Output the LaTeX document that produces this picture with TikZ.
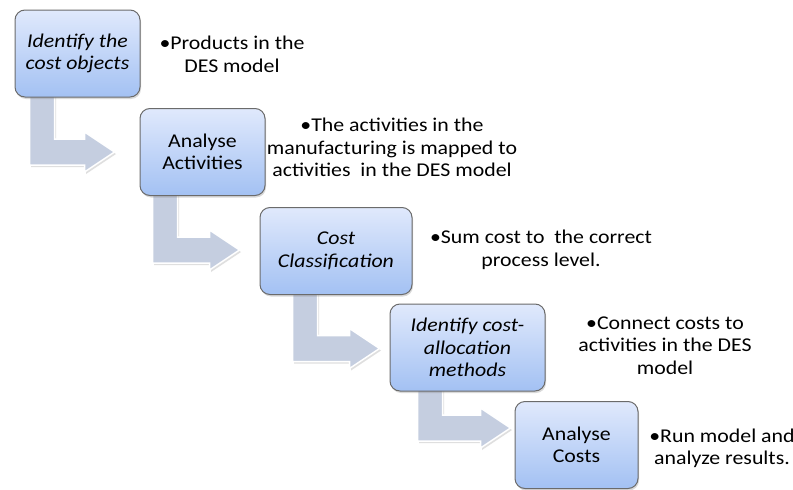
\documentclass[tikz,border=0pt]{standalone}
\usepackage{fontspec}
\setmainfont{Carlito}[FakeStretch=1.12]
\usetikzlibrary{calc,shadows,backgrounds}

\definecolor{boxtop}{HTML}{E0E9FC}
\definecolor{boxbot}{HTML}{A3C1F3}
\definecolor{boxline}{HTML}{6B6B6B}
\definecolor{flowfill}{HTML}{C5CEE0}

\tikzset{
  stepbox/.style={rectangle, rounded corners=10pt, draw=boxline, line width=1pt,
    top color=boxtop, bottom color=boxbot, minimum height=87pt, inner sep=0pt,
    align=center, font=\fontsize{19.5}{22.5}\selectfont,
    drop shadow={opacity=0.3, shadow xshift=1pt, shadow yshift=-2pt}},
  note/.style={align=center, font=\fontsize{19.5}{22.5}\selectfont, inner sep=0pt},
  flowarrow/.style={fill=flowfill, draw=white, line width=1.5pt,
    drop shadow={opacity=0.25, shadow xshift=1.5pt, shadow yshift=-2pt}},
}

% bent arrow from below box #1 to the left of box #2
% #3 offset of the shaft from the left side of #1, #4 gap before #2, #5 vertical shift of the tip
\newcommand\bentarrow[5]{%
  \path[flowarrow] let \p1=(#1.south west), \p2=($(#2.west)+(-#4pt,#5pt)$) in
    (\x1+#3pt,\y1+6pt) -- (\x1+#3pt+25pt,\y1+6pt) -- (\x1+#3pt+25pt,\y2+13pt)
    -- (\x2-30pt,\y2+13pt) -- (\x2-30pt,\y2+20pt) -- (\p2)
    -- (\x2-30pt,\y2-20pt) -- (\x2-30pt,\y2-13pt) -- (\x1+#3pt,\y2-13pt) -- cycle;}

\begin{document}
\begin{tikzpicture}[x=1pt,y=-1pt]
  \useasboundingbox (0,0) rectangle (793,490);

  % process steps
  \node[stepbox, minimum width=125pt] (b1) at (77.5,53.5) {\itshape Identify the\\\itshape cost objects};
  \node[stepbox, minimum width=125pt] (b2) at (202.5,152) {Analyse\\Activities};
  \node[stepbox, minimum width=152pt] (b3) at (336,251) {\itshape Cost\\\itshape Classification};
  \node[stepbox, minimum width=155pt] (b4) at (467.5,347.5) {\itshape Identify cost-\\\itshape allocation\\\itshape methods};
  \node[stepbox, minimum width=123pt] (b5) at (576.5,445) {Analyse\\Costs};

  % connecting arrows behind the steps
  \begin{scope}[on background layer]
    \bentarrow{b1}{b2}{15}{25}{0}
    \bentarrow{b2}{b3}{13}{20}{1}
    \bentarrow{b3}{b4}{33}{10}{-1}
    \bentarrow{b4}{b5}{28}{4}{17}
  \end{scope}

  % descriptions
  \node[note] (t1) at (232,54.5) {•Products in the\\DES model};
  \node[note] (t2) at (392,147.5) {•The activities in the\\manufacturing is mapped to\\activities\ \ in the DES model};
  \node[note] (t3) at (541,250) {•Sum cost to\ \ the correct\\process level.};
  \node[note] (t4) at (665,345.5) {•Connect costs to\\activities in the DES\\model};
  \node[note] (t5) at (722,448.5) {•Run model and\\analyze results.};
\end{tikzpicture}
\end{document}
